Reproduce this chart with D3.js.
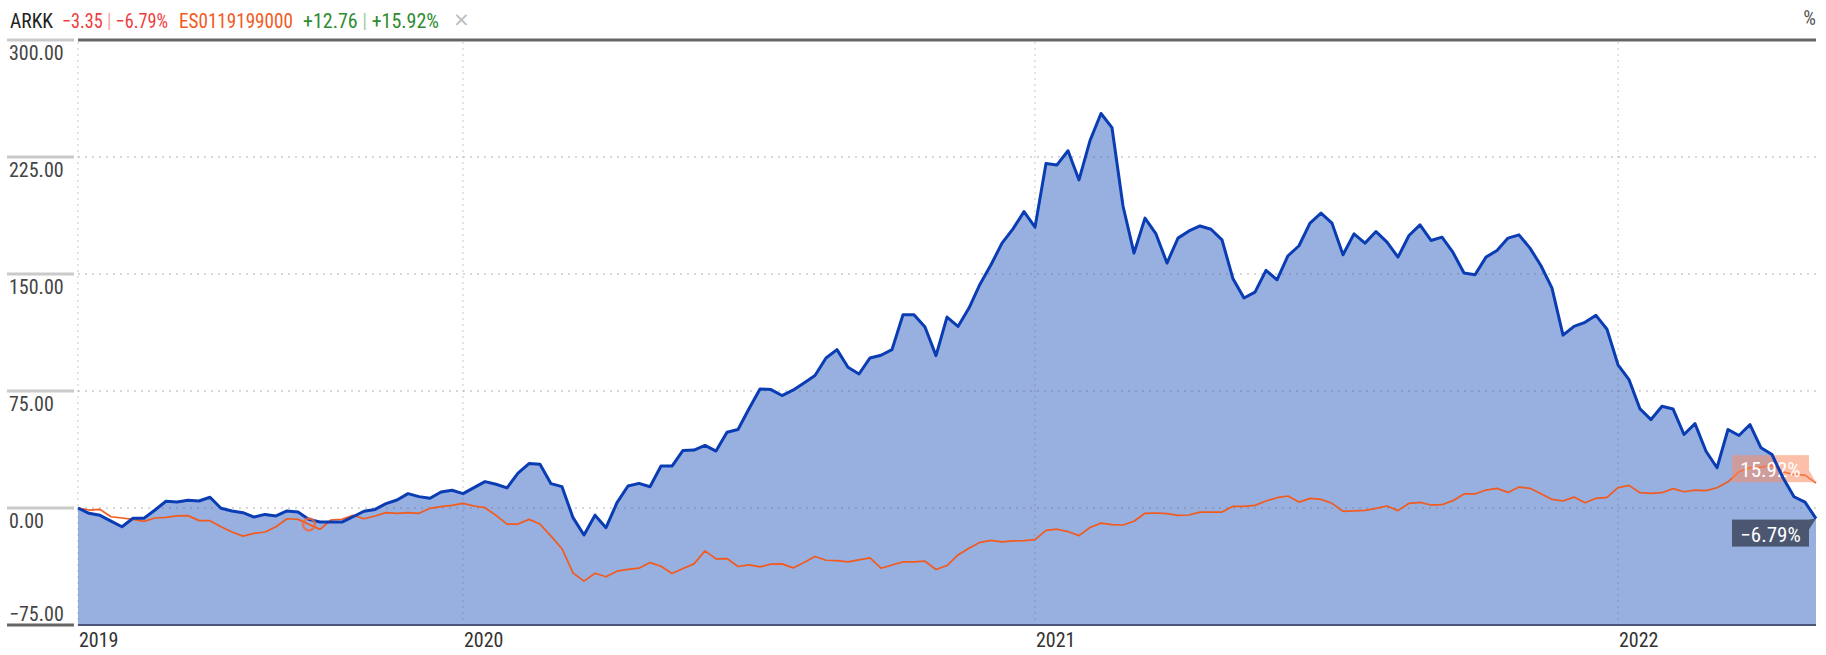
<!DOCTYPE html>
<html>
<head>
<meta charset="utf-8">
<script src="https://cdnjs.cloudflare.com/ajax/libs/d3/7.8.5/d3.min.js"></script>
<style>
  body { margin: 0; background: #fff; }
  svg { display: block; font-family: "Liberation Sans Narrow", "Roboto Condensed", "DejaVu Sans Condensed", "Arial Narrow", sans-serif; }
</style>
</head>
<body>
<svg id="chart" width="1826" height="655"></svg>
<script>
"use strict";
// weekly % change since start
var arkk = [
    0, -3.4, -4.7, -8.4, -12, -6.6, -6.6, -1.3, 4.3, 3.9,
    4.9, 4.5, 6.9, -0.2, -1.9, -3, -5.8, -4.1, -5.1, -1.9,
    -2.6, -7.3, -9, -9, -9, -5.6, -2.1, -0.9, 2.8, 5.1,
    9.2, 7.3, 6.2, 10.3, 11.4, 9.2, 13.1, 16.9, 15.2, 12.9,
    22.3, 28.5, 28.1, 15.6, 13.7, -6.2, -17.3, -4.6, -12.6, 3.4,
    14.1, 15.8, 13.6, 26.9, 26.9, 36.9, 37.1, 40.1, 36.5, 48.6,
    50.3, 63.6, 76.3, 75.9, 72.1, 75.5, 80.2, 84.9, 96.2, 101.5,
    90.2, 85.9, 96.2, 97.9, 101.5, 123.9, 123.9, 116, 97.7, 122.4,
    116.4, 128.2, 143.5, 155.9, 169.8, 178.9, 190, 180, 220.9, 219.9,
    229, 210.3, 235.5, 252.9, 243.8, 193.6, 163.4, 185.8, 175.7, 157,
    173, 177.6, 180.8, 178.7, 171.9, 146.9, 134.6, 138.4, 152.3, 146.3,
    161.7, 168.1, 182.6, 189, 182.6, 162.3, 175.7, 169.8, 177.2, 170.4,
    160.8, 174.7, 181.5, 171.5, 173.6, 163.8, 150.6, 149.5, 160.8, 165.1,
    173, 175.1, 166.6, 155.3, 141, 110.8, 116.4, 119, 123.5, 114.6,
    91.8, 82.3, 63.5, 56.7, 65.2, 63.5, 47.1, 54.1, 36.4, 25.8,
    50.3, 46.5, 53.5, 38.6, 34.3, 19.4, 7.2, 3.8, -6.79
];
var es0119 = [
    0, -1.3, -0.9, -5.6, -6.4, -7.3, -8.6, -6.4, -6, -5.1,
    -4.9, -8.1, -8.1, -12, -15.4, -18, -16.3, -15.4, -12, -6.9,
    -7.3, -10.5, -13.7, -7.7, -7.3, -4.7, -6.9, -5.1, -3, -3.4,
    -3, -3.4, -0.2, 0.9, 1.7, 3, 1.3, 0.2, -4.7, -10.3,
    -10.3, -7.3, -10.3, -18, -26.1, -41.6, -46.9, -41.8, -44.1, -40.5,
    -39.4, -38.6, -35, -37.3, -42, -38.8, -35.8, -27.5, -32.6, -32.4,
    -37.5, -36.5, -37.7, -36, -35.8, -38.4, -35, -31.1, -33.5, -33.7,
    -34.5, -33.3, -32, -38.6, -36.5, -34.5, -34.5, -34.1, -39.4, -36.9,
    -30.1, -25.8, -22, -20.7, -21.7, -21.1, -20.9, -20.3, -14.3, -13.6,
    -15.1, -17.7, -12.5, -9.7, -10.7, -10.9, -8.5, -3.4, -3.2, -3.6,
    -4.7, -4.5, -2.6, -2.6, -2.6, 1.1, 1.1, 1.7, 4.5, 6.6,
    7.7, 3.8, 6.2, 5.5, 3, -2.1, -1.9, -1.5, -0.2, 1.3,
    -1.7, 3, 3.6, 1.9, 2.1, 4.7, 9, 9, 11.5, 12.6,
    10, 13.4, 12.6, 9.2, 5.5, 4.5, 7, 3.4, 6.2, 6.8,
    13, 14.5, 9.8, 9.4, 9.8, 12.4, 10.4, 11.5, 11.1, 13,
    16.8, 23.2, 25.8, 26.2, 27.3, 23.2, 21.5, 21.1, 15.92
];
// weekly closes, fridays
var dates = d3.timeFriday.range(new Date(2019, 4, 3), new Date(2022, 4, 14));
var names = ['ARKK', 'ES0119199000'];
var absChange = [-3.35, 12.76];
var pctChange = [-6.79, 15.92];
var yTicks = [-75, 0, 75, 150, 225, 300];
var years = [2019, 2020, 2021, 2022];
var markerIdx = 21;

var width = 1826, height = 655;
var margin = { top: 40, right: 10, bottom: 30, left: 78 };

var svg = d3.select('#chart');

var x = d3.scaleTime()
    .domain(d3.extent(dates))
    .range([margin.left, width - margin.right]);
var y = d3.scaleLinear()
    .domain([yTicks[0], yTicks[yTicks.length - 1]])
    .range([height - margin.bottom, margin.top]);

var colors = {
    area: '#98b0e0',
    blue: '#0a3cb4',
    orange: '#f25a1e',
    grid: 'rgba(100,100,120,0.35)'
};

// area under ARKK
var area = d3.area()
    .x(function (d, i) { return x(dates[i]); })
    .y0(y(yTicks[0]))
    .y1(function (d) { return y(d); });
var line = d3.line()
    .x(function (d, i) { return x(dates[i]); })
    .y(function (d) { return y(d); });

svg.append('path')
    .datum(arkk)
    .attr('fill', colors.area)
    .attr('d', area);

// horizontal grid
svg.selectAll('.hgrid')
    .data(yTicks.slice(1, -1))
    .enter().append('line')
    .attr('class', 'hgrid')
    .attr('x1', margin.left)
    .attr('x2', width - margin.right)
    .attr('y1', function (d) { return y(d); })
    .attr('y2', function (d) { return y(d); })
    .attr('stroke', colors.grid)
    .attr('stroke-width', 1.5)
    .attr('stroke-dasharray', '2,5');

// year ticks sit on the first weekly point of each year
var yearDates = years.map(function (yr) {
    return dates.find(function (d) { return d.getFullYear() === yr; });
});
svg.selectAll('.vgrid')
    .data(yearDates)
    .enter().append('line')
    .attr('class', 'vgrid')
    .attr('x1', function (d) { return x(d); })
    .attr('x2', function (d) { return x(d); })
    .attr('y1', margin.top + 2)
    .attr('y2', height - margin.bottom)
    .attr('stroke', colors.grid)
    .attr('stroke-width', 1)
    .attr('stroke-dasharray', '2,4');

svg.selectAll('.xlab')
    .data(yearDates)
    .enter().append('text')
    .attr('class', 'xlab')
    .attr('x', function (d) { return x(d) + 1; })
    .attr('y', 647)
    .attr('fill', '#333')
    .style('font-size', '20px')
    .text(function (d) { return d.getFullYear(); });

// frame lines
svg.append('line')
    .attr('x1', margin.left).attr('x2', width - margin.right)
    .attr('y1', y(yTicks[0])).attr('y2', y(yTicks[0]))
    .attr('stroke', '#4b5678').attr('stroke-width', 2);
svg.append('line')
    .attr('x1', margin.left).attr('x2', width - margin.right)
    .attr('y1', y(yTicks[yTicks.length - 1])).attr('y2', y(yTicks[yTicks.length - 1]))
    .attr('stroke', '#666').attr('stroke-width', 3);

// y axis labels with the little rule above each one
var yAxis = svg.selectAll('.ytick')
    .data(yTicks)
    .enter().append('g')
    .attr('class', 'ytick')
    .attr('transform', function (d) { return 'translate(0,' + y(d) + ')'; });
yAxis.append('line')
    .attr('x1', 7).attr('x2', 74)
    .attr('stroke', function (d) { return d === yTicks[0] ? '#666' : '#cacaca'; })
    .attr('stroke-width', 3);
yAxis.append('text')
    .attr('x', 9)
    .attr('y', function (d) { return d === yTicks[0] ? -4 : 20; })
    .attr('fill', '#444')
    .style('font-size', '20px')
    .text(d3.format('.2f'));

svg.append('path')
    .datum(es0119)
    .attr('fill', 'none')
    .attr('stroke', colors.orange)
    .attr('stroke-width', 1.7)
    .attr('stroke-linejoin', 'round')
    .attr('d', line);

// end labels, over the orange line but under the blue one
var last = dates.length - 1;
var px = x(dates[last]);
var endLabels = [
    { v: es0119[last], fill: '#fa8c64', op: 0.55, above: true },
    { v: arkk[last], fill: '#4b5670', op: 1, above: false }
];
endLabels.forEach(function (lb) {
    var py = y(lb.v);
    var top = lb.above ? py - 28 : py + 1;
    var g = svg.append('g');
    g.append('rect')
        .attr('x', px - 84).attr('y', top)
        .attr('width', 77).attr('height', 27)
        .attr('fill', lb.fill).attr('fill-opacity', lb.op);
    var tail = lb.above
        ? [[px - 7, py - 13], [px, py - 1], [px - 7, py - 1]]
        : [[px - 7, py + 1], [px, py], [px - 7, py + 11]];
    g.append('path')
        .attr('d', 'M' + tail.join('L') + 'Z')
        .attr('fill', lb.fill).attr('fill-opacity', lb.op);
    g.append('text')
        .attr('x', px - 45.5).attr('y', top + 22)
        .attr('text-anchor', 'middle')
        .attr('fill', '#fff')
        .style('font-size', '21px')
        .text(d3.format('.2f')(lb.v) + '%');
});

svg.append('path')
    .datum(arkk)
    .attr('fill', 'none')
    .attr('stroke', colors.blue)
    .attr('stroke-width', 3)
    .attr('stroke-linejoin', 'round')
    .attr('d', line);

svg.append('circle')
    .attr('cx', x(dates[markerIdx]))
    .attr('cy', y(es0119[markerIdx]))
    .attr('r', 6)
    .attr('fill', 'none')
    .attr('stroke', '#f0683a')
    .attr('stroke-opacity', 0.8)
    .attr('stroke-width', 2.5);

// header legend, each chunk squeezed horizontally to the width it has in the original
var fmt = function (v) { return v < 0 ? d3.format('.2f')(v) : d3.format('+.2f')(v); };
var headerItems = [
    { x: 10, w: 43, parts: [[names[0], '#222']] },
    { x: 62, w: 106, parts: [[fmt(absChange[0]), '#f03c3c'], [' | ', '#f5a3a3'], [fmt(pctChange[0]) + '%', '#f03c3c']] },
    { x: 179, w: 114, parts: [[names[1], colors.orange]] },
    { x: 303, w: 136, parts: [[fmt(absChange[1]), '#2e8c2e'], [' | ', '#9fcf9f'], [fmt(pctChange[1]) + '%', '#2e8c2e']] }
];
headerItems.forEach(function (item) {
    var g = svg.append('g');
    var t = g.append('text')
        .attr('y', 0)
        .style('font-size', '21px');
    item.parts.forEach(function (p) {
        t.append('tspan').attr('fill', p[1]).text(p[0]);
    });
    var natural = t.node().getComputedTextLength();
    g.attr('transform', 'translate(' + item.x + ',28) scale(' + (item.w / natural) + ',1)');
});
svg.append('text')
    .attr('x', 453)
    .attr('y', 26)
    .attr('fill', '#bbb')
    .style('font-family', 'DejaVu Sans')
    .style('font-size', '20px')
    .text('\u00d7');

svg.append('text')
    .attr('x', width - margin.right)
    .attr('y', 25)
    .attr('text-anchor', 'end')
    .attr('fill', '#555')
    .style('font-size', '20px')
    .text('%');
</script>
</body>
</html>
